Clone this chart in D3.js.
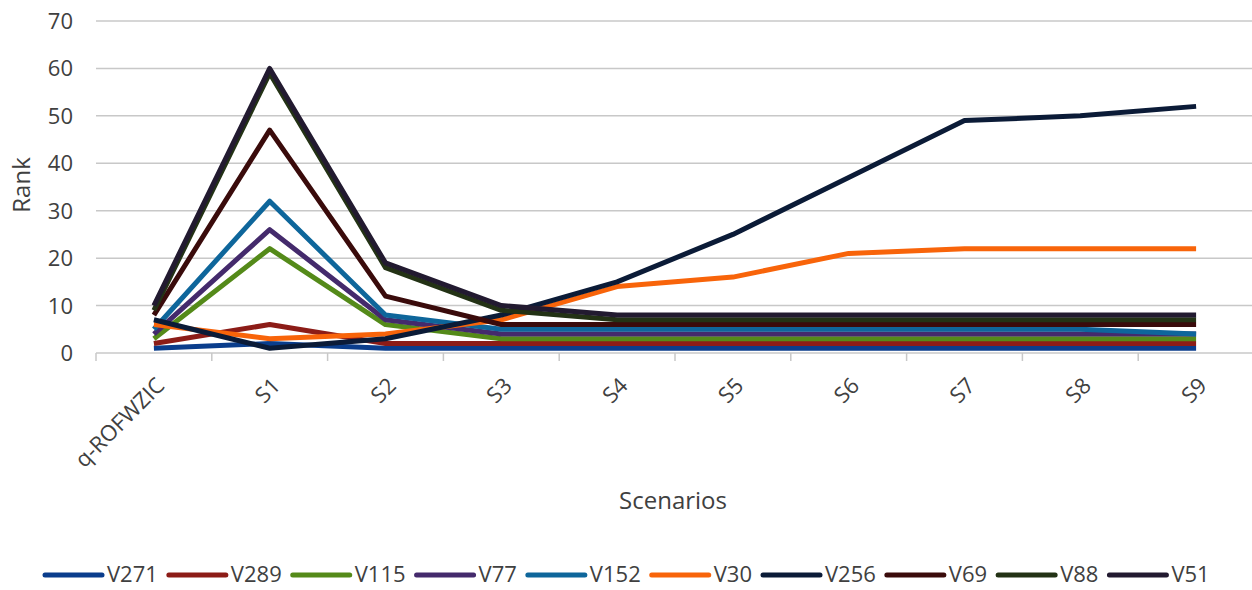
<!DOCTYPE html>
<html lang="en">
<head>
<meta charset="UTF-8">
<title>Rank by scenario</title>
<style>
	body { margin: 0; background: #fff; }
	text { font-family: "Open Sans", sans-serif; fill: #404040; }
</style>
</head>
<body>
<svg id="chart" width="1252" height="590"></svg>
<script src="https://cdn.jsdelivr.net/npm/d3@7"></script>
<script>
// categories and values
let scenarios = ["q-ROFWZIC", "S1", "S2", "S3", "S4", "S5", "S6", "S7", "S8", "S9"];
let yTicks = [0, 10, 20, 30, 40, 50, 60, 70];

let V271 = [1, 2, 1, 1, 1, 1, 1, 1, 1, 1];
let V289 = [2, 6, 2, 2, 2, 2, 2, 2, 2, 2];
let V115 = [3, 22, 6, 3, 3, 3, 3, 3, 3, 3];
let V77  = [4, 26, 7, 4, 4, 4, 4, 4, 4, 4];
let V152 = [5, 32, 8, 5, 5, 5, 5, 5, 5, 4];
let V30  = [6, 3, 4, 7, 14, 16, 21, 22, 22, 22];
let V256 = [7, 1, 3, 8, 15, 25, 37, 49, 50, 52];
let V69  = [8, 47, 12, 6, 6, 6, 6, 6, 6, 6];
let V88  = [9, 59, 18, 9, 7, 7, 7, 7, 7, 7];
let V51  = [10, 60, 19, 10, 8, 8, 8, 8, 8, 8];

let seriesNames = ["V271", "V289", "V115", "V77", "V152", "V30", "V256", "V69", "V88", "V51"];
let seriesValues = [V271, V289, V115, V77, V152, V30, V256, V69, V88, V51];
let seriesColors = ["#0a3d8c", "#8c1c17", "#548a19", "#442a6c", "#0e669b", "#f8640a", "#0b1b37", "#3a0b0b", "#233215", "#221a30"];

let svg = d3.select("#chart");

let x = d3.scaleBand().domain(scenarios).range([96, 1254]);
let y = d3.scaleLinear().domain([0, 70]).range([353, 21]);

// gridlines
svg.append("g")
	.selectAll("line")
	.data(yTicks.filter(d => d > 0))
	.join("line")
	.attr("x1", 96).attr("x2", 1252)
	.attr("y1", d => y(d)).attr("y2", d => y(d))
	.attr("stroke", "#c8c8c8").attr("stroke-width", 1.5);

// y labels
svg.append("g")
	.selectAll("text")
	.data(yTicks)
	.join("text")
	.attr("x", 73).attr("y", d => y(d) + 8)
	.attr("text-anchor", "end")
	.style("font-size", "22px")
	.text(d => d);

// x axis line and ticks
let xAxis = svg.append("g").attr("transform", "translate(0," + y(0) + ")");
xAxis.append("line").attr("x1", 96).attr("x2", 1252)
	.attr("stroke", "#c8c8c8").attr("stroke-width", 1.5);
xAxis.selectAll(".tk")
	.data(scenarios)
	.join("line")
	.attr("class", "tk")
	.attr("x1", d => x(d)).attr("x2", d => x(d))
	.attr("y1", 0).attr("y2", 8)
	.attr("stroke", "#c8c8c8").attr("stroke-width", 1.5);
xAxis.selectAll(".lb")
	.data(scenarios)
	.join("text")
	.attr("class", "lb")
	.attr("text-anchor", "end")
	.style("font-size", "22px")
	.attr("transform", d => "translate(" + (x(d) + x.bandwidth() / 2 + 12) + ",34) rotate(-45)")
	.text(d => d);

// lines
let line = d3.line()
	.x((d, i) => x(scenarios[i]) + x.bandwidth() / 2)
	.y(d => y(d));

svg.append("g")
	.selectAll("path")
	.data(seriesValues)
	.join("path")
	.attr("d", line)
	.attr("fill", "none")
	.attr("stroke", (d, i) => seriesColors[i])
	.attr("stroke-width", 5)
	.attr("stroke-linejoin", "round");

// axis titles
svg.append("text")
	.attr("transform", "translate(30,185) rotate(-90)")
	.attr("text-anchor", "middle")
	.style("font-size", "24px")
	.text("Rank");
svg.append("text")
	.attr("x", 673).attr("y", 509)
	.attr("text-anchor", "middle")
	.style("font-size", "24px")
	.text("Scenarios");

// legend
let legend = svg.append("g");
let lx = 45;
seriesNames.forEach((name, i) => {
	let item = legend.append("g").attr("transform", "translate(" + lx + ",575)");
	item.append("line")
		.attr("x1", 0).attr("x2", 57)
		.attr("stroke", seriesColors[i]).attr("stroke-width", 5)
		.attr("stroke-linecap", "round");
	let t = item.append("text")
		.attr("x", 62).attr("y", 7)
		.style("font-size", "22px")
		.text(name);
	lx += 62 + t.node().getComputedTextLength() + 11;
});
</script>
</body>
</html>
